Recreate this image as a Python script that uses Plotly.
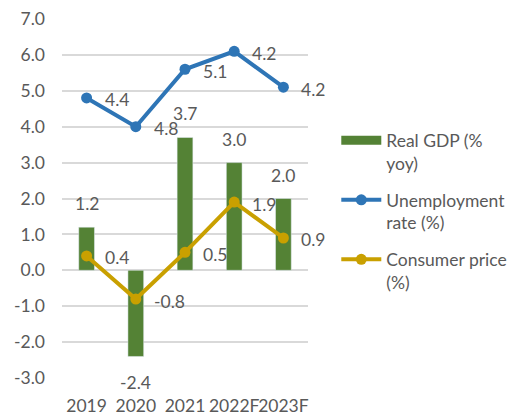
import plotly.graph_objects as go

years = ["2019", "2020", "2021", "2022F", "2023F"]
gdp = [1.2, -2.4, 3.7, 3.0, 2.0]
unemp = [4.8, 4.0, 5.6, 6.1, 5.1]
unemp_labels = ["4.4", "4.8", "5.1", "4.2", "4.2"]
cpi = [0.4, -0.8, 0.5, 1.9, 0.9]
cpi_labels = ["0.4", "-0.8", "0.5", "1.9", "0.9"]
gdp_labels = ["1.2", "-2.4", "3.7", "3.0", "2.0"]
y_ticks = [-3, -2, -1, 0, 1, 2, 3, 4, 5, 6, 7]

GREEN = "#548235"
BLUE = "#2E75B6"
GOLD = "#C9A000"
TXT = "#595959"
FONT = "Lato"
FS = 17.5

fig = go.Figure()
fig.add_trace(go.Bar(x=years, y=gdp, marker_color=GREEN, width=0.32,
                     showlegend=False, name="Real GDP (%<br>yoy)"))
# legend proxy for wide bar swatch
fig.add_trace(go.Scatter(x=[years[0]], y=[None], mode="lines",
                         line=dict(color=GREEN, width=9),
                         name="Real GDP (%<br>yoy)", legendgroup="a"))
fig.add_trace(go.Scatter(x=years, y=unemp, mode="lines+markers",
                         line=dict(color=BLUE, width=4),
                         marker=dict(size=11, color=BLUE),
                         name="Unemployment<br>rate (%)", legendgroup="b"))
fig.add_trace(go.Scatter(x=years, y=cpi, mode="lines+markers",
                         line=dict(color=GOLD, width=4),
                         marker=dict(size=11, color=GOLD),
                         name="Consumer price<br>(%)", legendgroup="c"))

ann = []
for i, (v, t) in enumerate(zip(gdp, gdp_labels)):
    ann.append(dict(x=i, y=v, text=t, showarrow=False, xref="x", yref="y",
                    yanchor="bottom" if v >= 0 else "top",
                    yshift=11 if v >= 0 else -14,
                    font=dict(family=FONT, size=FS, color=TXT)))
for series, labels in ((unemp, unemp_labels), (cpi, cpi_labels)):
    for i, (v, t) in enumerate(zip(series, labels)):
        ann.append(dict(x=i, y=v, text=t, showarrow=False, xref="x", yref="y",
                        xanchor="left", xshift=16, yshift=-2,
                        font=dict(family=FONT, size=FS, color=TXT)))

fig.update_layout(
    width=524, height=414,
    margin=dict(l=62, r=211, t=19, b=36),
    paper_bgcolor="white", plot_bgcolor="white",
    font=dict(family=FONT, size=FS, color=TXT),
    annotations=ann,
    legend=dict(x=1.115, y=0.712, xanchor="left", yanchor="top",
                traceorder="grouped", tracegroupgap=11, valign="top",
                font=dict(family=FONT, size=FS, color=TXT),
                itemwidth=40, bgcolor="rgba(0,0,0,0)"),
    xaxis=dict(type="category", range=[-0.5, 4.5], showgrid=False,
               showline=False, ticks="", zeroline=False, tickangle=0,
               automargin=False, ticklabelstandoff=15,
               tickfont=dict(family=FONT, size=FS, color=TXT)),
    yaxis=dict(range=[-3, 7], tickvals=y_ticks,
               ticktext=[f"{v:.1f}" for v in y_ticks],
               showgrid=True, gridcolor="#D9D9D9", gridwidth=1.5,
               zeroline=True, zerolinecolor="#D9D9D9", zerolinewidth=1.5,
               ticks="", ticklabelstandoff=16, automargin=False,
               tickfont=dict(family=FONT, size=FS, color=TXT)),
)

fig.write_html("out.html")
